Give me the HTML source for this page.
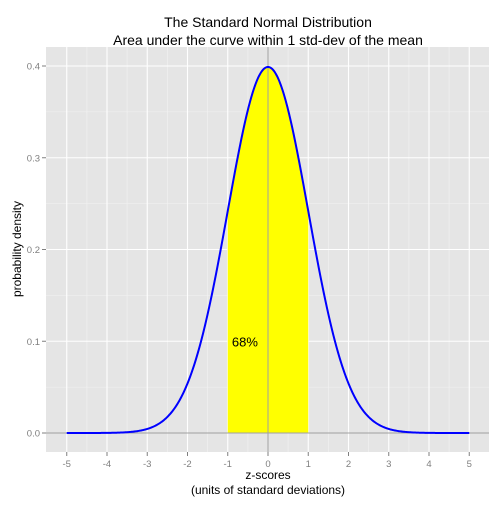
<!DOCTYPE html>
<html><head><meta charset="utf-8"><style>
body{margin:0;background:#fff}
text{font-family:"Liberation Sans",sans-serif}
</style></head><body>
<svg id="c" width="504" height="504" viewBox="0 0 504 504">
<rect x="46" y="47" width="443" height="405" fill="#e5e5e5"/>
<g id="grid"></g>
<g id="marks"></g>
<g id="axes"></g>
<text x="268" y="27" text-anchor="middle" font-size="14">The Standard Normal Distribution</text>
<text x="268" y="45" text-anchor="middle" font-size="14">Area under the curve within 1 std-dev of the mean</text>
<text x="268" y="479" text-anchor="middle" font-size="12">z-scores</text>
<text x="268" y="494" text-anchor="middle" font-size="12">(units of standard deviations)</text>
<text transform="translate(21,249) rotate(-90)" text-anchor="middle" font-size="12">probability density</text>
</svg>
<script>
const xTicks=[-5,-4,-3,-2,-1,0,1,2,3,4,5];
const yTicks=[0,0.1,0.2,0.3,0.4];
const yTickLabels=["0.0","0.1","0.2","0.3","0.4"];
const shadeRange=[-1,1];
const areaLabel="68%";
const areaLabelPos=[-0.5,0.1];
const xDomain=[-5,5];
const X=v=>268+v*40.25, Y=v=>433-v*917.5;
const ns="http://www.w3.org/2000/svg";
function mk(p,t,a){const e=document.createElementNS(ns,t);for(const k in a)e.setAttribute(k,a[k]);document.getElementById(p).appendChild(e);return e;}
const pdf=z=>Math.exp(-z*z/2)/Math.sqrt(2*Math.PI);
// minor grid
for(let i=0;i<xTicks.length-1;i++){const e=mk('grid','line',{x1:X((xTicks[i]+xTicks[i+1])/2),x2:X((xTicks[i]+xTicks[i+1])/2),y1:47,y2:452,stroke:'#f2f2f2','stroke-width':0.6});

}
for(let i=0;i<yTicks.length-1;i++){const e=mk('grid','line',{x1:46,x2:489,y1:Y((yTicks[i]+yTicks[i+1])/2),y2:Y((yTicks[i]+yTicks[i+1])/2),stroke:'#f2f2f2','stroke-width':0.6});

}
xTicks.forEach(t=>{const e=mk('grid','line',{x1:X(t),x2:X(t),y1:47,y2:452,stroke:'#fff','stroke-width':1.1});


const k=mk('axes','line',{x1:X(t),x2:X(t),y1:452,y2:456,stroke:'#7f7f7f'});


const l=mk('axes','text',{x:X(t),y:467,'text-anchor':'middle','font-size':9.5,fill:'#7f7f7f'});l.textContent=t;

});
yTicks.forEach((t,i)=>{const e=mk('grid','line',{x1:46,x2:489,y1:Y(t),y2:Y(t),stroke:'#fff','stroke-width':1.1});


const k=mk('axes','line',{x1:42,x2:46,y1:Y(t),y2:Y(t),stroke:'#7f7f7f'});


const l=mk('axes','text',{x:40,y:Y(t)+3.5,'text-anchor':'end','font-size':9.5,fill:'#7f7f7f'});l.textContent=yTickLabels[i];

});
// shaded area
let d='M'+X(shadeRange[0])+','+Y(0);
for(let z=shadeRange[0];z<=shadeRange[1]+1e-9;z+=0.02)d+=' L'+X(z).toFixed(2)+','+Y(pdf(z)).toFixed(2);
d+=' L'+X(shadeRange[1])+','+Y(0)+'Z';
const a=mk('marks','path',{d:d,fill:'#ffff00'});


// reference lines
const h=mk('marks','line',{x1:46,x2:489,y1:Y(0),y2:Y(0),stroke:'#a0a0a0','stroke-width':1});


const v=mk('marks','line',{x1:X(0),x2:X(0),y1:47,y2:452,stroke:'#a0a0a0','stroke-width':1});


// curve
let c='';
for(let z=xDomain[0];z<=xDomain[1]+1e-9;z+=0.02)c+=(c?' L':'M')+X(z).toFixed(2)+','+Y(pdf(z)).toFixed(2);
const p=mk('marks','path',{d:c,fill:'none',stroke:'#0000ff','stroke-width':2});


const t=mk('marks','text',{x:X(areaLabelPos[0])-3,y:Y(areaLabelPos[1])+5,'text-anchor':'middle','font-size':13});t.textContent=areaLabel;


</script>
</body></html>
